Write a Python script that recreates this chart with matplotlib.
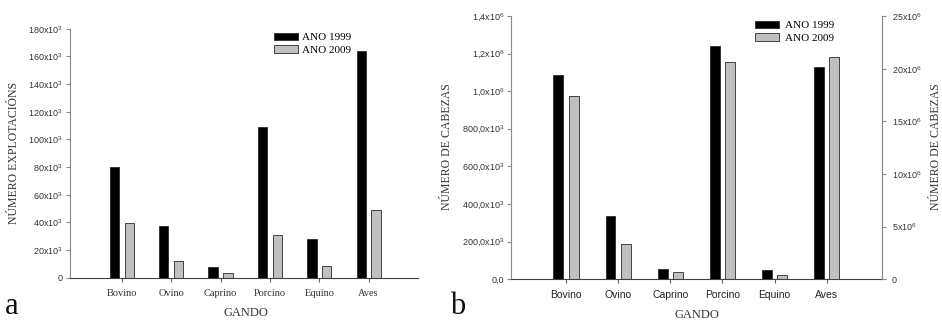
import matplotlib
matplotlib.use("Agg")
import numpy as np
import matplotlib.pyplot as plt
from matplotlib.ticker import FixedLocator, FuncFormatter

plt.rcParams["mathtext.fontset"] = "custom"
plt.rcParams["mathtext.rm"] = "Liberation Sans"
plt.rcParams["mathtext.default"] = "rm"

# ----------------------------------------------------
# Data
# ----------------------------------------------------

categorias = ["Bovino", "Ovino", "Caprino", "Porcino", "Equino", "Aves"]

# Number of farms
explotacions_1999 = [80000, 37200, 8000, 109000, 28200, 164000]
explotacions_2009 = [39300, 12000, 3200, 30600, 8500, 49000]

# Number of heads (left axis, everything except poultry)
cabezas_1999 = [1088000, 337000, 53000, 1240000, 49000]
cabezas_2009 = [973000, 186000, 37000, 1155000, 21000]

# Poultry heads (right axis)
aves_1999 = 20.2e6
aves_2009 = 21.1e6

anos = ["ANO 1999", "ANO 2009"]

SERIF = "Liberation Serif"
SANS = "Liberation Sans"
NEGRO = "#000000"
GRIS = "#c0c0c0"
BORDE = "#2a2a2a"
EIXO = "#8a8a8a"
TEXTO = "#333333"

x = np.arange(len(categorias))
off = 0.15
w = 0.19

W, H = 942, 322
fig = plt.figure(figsize=(W / 100, H / 100), dpi=100)


def px(xp, yp):
    # pixel position (from top-left) to figure fraction
    return xp / W, 1 - yp / H


def estilo(ax):
    ax.spines["top"].set_visible(False)
    ax.spines["right"].set_visible(False)
    ax.spines["left"].set_color(EIXO)
    ax.spines["bottom"].set_color("#404040")
    ax.tick_params(axis="y", direction="out", length=3, width=0.8,
                   color=EIXO, labelcolor=TEXTO, pad=2)
    ax.tick_params(axis="x", direction="out", length=3, width=0.8,
                   color="#606060", pad=5)


def etiqueta(xp, yp, texto, rot=0, size=8.5):
    fig.text(*px(xp, yp), texto, fontfamily=SERIF, fontsize=size,
             color=TEXTO, rotation=rot, ha="center", va="center")


# ----------------------------------------------------
# Panel a: farms
# ----------------------------------------------------

ax1 = fig.add_axes([0.0743, 0.1376, 0.3694, 0.7733])
b1 = ax1.bar(x - off, explotacions_1999, w, color=NEGRO,
             edgecolor=BORDE, linewidth=0.6)
b2 = ax1.bar(x + off, explotacions_2009, w, color=GRIS,
             edgecolor=BORDE, linewidth=0.6)
ax1.set_xlim(-1.05, 6.0)
ax1.set_ylim(0, 180000)
estilo(ax1)
ax1.yaxis.set_major_locator(FixedLocator(np.arange(0, 180001, 20000)))
ax1.yaxis.set_major_formatter(FuncFormatter(
    lambda v, p: "0" if v == 0 else f"{int(v / 1000)}x10$^{{3}}$"))
for t in ax1.get_yticklabels():
    t.set_fontfamily(SANS)
    t.set_fontsize(6.5)
ax1.set_xticks(x)
ax1.set_xticklabels(categorias, fontfamily=SERIF, fontsize=7.5,
                    color=TEXTO)

etiqueta(14, 153, "NÚMERO EXPLOTACIÓNS", rot=90)
etiqueta(246, 313, "GANDO", size=9)

ax1.legend(handles=[b1, b2], labels=anos, loc="upper left",
           bbox_to_anchor=px(268, 27),
           bbox_transform=fig.transFigure, frameon=False, borderpad=0,
           handlelength=2.2, handleheight=0.62, handletextpad=0.4,
           labelspacing=0.3, prop={"family": SERIF, "size": 8})

# ----------------------------------------------------
# Panel b: heads
# ----------------------------------------------------

ax2 = fig.add_axes([0.5425, 0.1326, 0.3936, 0.8177])
c1 = ax2.bar(x[:5] - off, cabezas_1999, w, color=NEGRO,
             edgecolor=BORDE, linewidth=0.6)
c2 = ax2.bar(x[:5] + off, cabezas_2009, w, color=GRIS,
             edgecolor=BORDE, linewidth=0.6)
ax2.set_xlim(-1.06, 6.06)
ax2.set_ylim(0, 1.4e6)
estilo(ax2)
ax2.spines["right"].set_visible(True)
ax2.spines["right"].set_color(EIXO)

esq = ["0,0", "200,0x10$^{3}$", "400,0x10$^{3}$", "600,0x10$^{3}$",
       "800,0x10$^{3}$", "1,0x10$^{6}$", "1,2x10$^{6}$", "1,4x10$^{6}$"]
ax2.yaxis.set_major_locator(FixedLocator(np.arange(0, 1.4e6 + 1, 2e5)))
ax2.set_yticklabels(esq, fontfamily=SANS, fontsize=6.5)
ax2.set_xticks(x)
ax2.set_xticklabels(categorias, fontfamily=SANS, fontsize=7.5,
                    color="#222222")

# Right axis for poultry
ax3 = ax2.twinx()
ax3.bar(x[5] - off, aves_1999, w, color=NEGRO, edgecolor=BORDE,
        linewidth=0.6)
ax3.bar(x[5] + off, aves_2009, w, color=GRIS, edgecolor=BORDE,
        linewidth=0.6)
ax3.set_ylim(0, 25e6)
for s in ["top", "left", "bottom"]:
    ax3.spines[s].set_visible(False)
ax3.spines["right"].set_color(EIXO)
ax3.yaxis.set_major_locator(FixedLocator(np.arange(0, 25e6 + 1, 5e6)))
ax3.yaxis.set_major_formatter(FuncFormatter(
    lambda v, p: "0" if v == 0 else f"{int(v / 1e6)}x10$^{{6}}$"))
ax3.tick_params(axis="y", direction="out", length=3, width=0.8,
                color=EIXO, labelcolor=TEXTO, pad=4)
for t in ax3.get_yticklabels():
    t.set_fontfamily(SANS)
    t.set_fontsize(6.5)

etiqueta(447, 147, "NÚMERO DE CABEZAS", rot=90)
etiqueta(936, 147, "NÚMERO DE CABEZAS", rot=90)
etiqueta(697, 315, "GANDO", size=9)

ax2.legend(handles=[c1, c2], labels=anos, loc="upper left",
           bbox_to_anchor=px(749, 15),
           bbox_transform=fig.transFigure, frameon=False, borderpad=0,
           handlelength=2.2, handleheight=0.62, handletextpad=0.5,
           labelspacing=0.3, prop={"family": SERIF, "size": 8})

# Panel letters
fig.text(*px(5, 314), "a", fontfamily=SERIF, fontsize=22, color="#111111")
fig.text(*px(450, 314), "b", fontfamily=SERIF, fontsize=22, color="#111111")

fig.savefig("out.png", dpi=100)
